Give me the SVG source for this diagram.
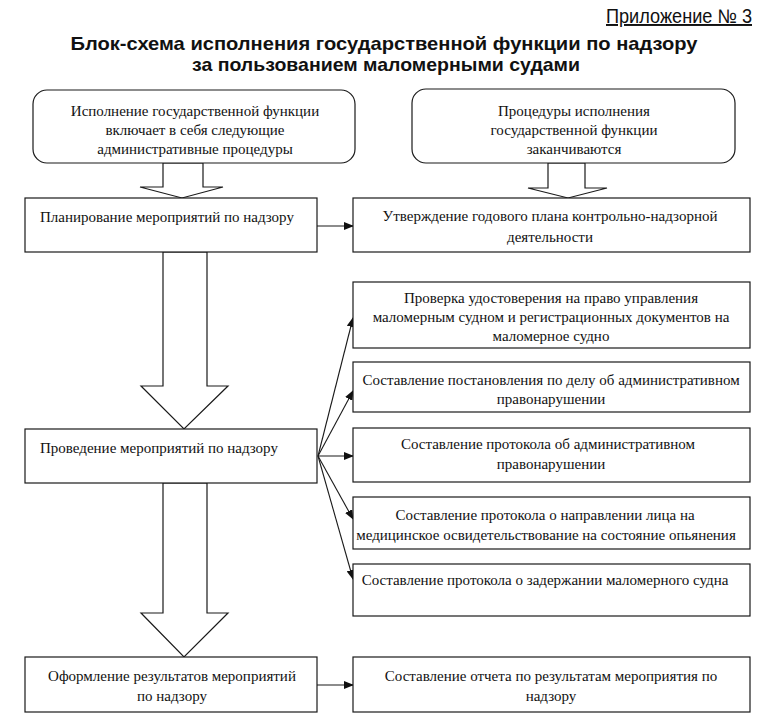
<svg xmlns="http://www.w3.org/2000/svg" width="765" height="725" viewBox="0 0 765 725">
<style>
.box{fill:#fff;stroke:#1a1a1a;stroke-width:1.2}
.t{font-family:"Liberation Serif","Times New Roman",serif;font-size:15px;fill:#111}
.c{text-anchor:middle}
.hd{font-family:"Liberation Sans",Arial,sans-serif;font-weight:bold;font-size:18.5px;fill:#111;text-anchor:middle}
.ap{font-family:"Liberation Sans",Arial,sans-serif;font-size:19.5px;fill:#111;text-decoration:underline}
.big{fill:#fff;stroke:#1a1a1a;stroke-width:1.2;stroke-linejoin:miter}
.ln{stroke:#1a1a1a;stroke-width:1.1;fill:none;marker-end:url(#ah)}
</style>
<defs>
<marker id="ah" markerWidth="10" markerHeight="8" refX="9" refY="4" orient="auto" markerUnits="userSpaceOnUse">
<path d="M0,0 L10,4 L0,8 Z" fill="#111"/>
</marker>
</defs>
<rect width="765" height="725" fill="#fff"/>

<g id="header">
<text class="ap" x="606" y="23" textLength="146" lengthAdjust="spacingAndGlyphs">Приложение № 3</text>
<text class="hd" x="384" y="50" textLength="627" lengthAdjust="spacingAndGlyphs">Блок-схема исполнения государственной функции по надзору</text>
<text class="hd" x="386" y="71" textLength="388" lengthAdjust="spacingAndGlyphs">за пользованием маломерными судами</text>
</g>

<g id="connectors">
<polygon class="big" points="163,163 163,187 140,187 182,198 223,187 203,187 203,163"/>
<polygon class="big" points="548,163 548,188 528,188 568,198 607,188 585,188 585,163"/>
<polygon class="big" points="163,252 163,386 141,386 184,429 228,386 207,386 207,252"/>
<polygon class="big" points="163,483 163,613 141,613 184,657 228,613 207,613 207,483"/>
<line class="ln" x1="317" y1="226" x2="353" y2="226"/>
<line class="ln" x1="317" y1="685" x2="353" y2="685"/>
<line class="ln" x1="318" y1="456" x2="353" y2="318"/>
<line class="ln" x1="318" y1="456" x2="353" y2="391"/>
<line class="ln" x1="318" y1="456" x2="353" y2="456"/>
<line class="ln" x1="318" y1="456" x2="353" y2="519"/>
<line class="ln" x1="318" y1="456" x2="353" y2="579"/>
</g>

<g id="start">
<rect class="box" x="33" y="90" width="322" height="73" rx="14"/>
<text class="t c" x="195" y="116">Исполнение государственной функции</text>
<text class="t c" x="195" y="135">включает в себя следующие</text>
<text class="t c" x="195" y="154">административные процедуры</text>
</g>

<g id="end">
<rect class="box" x="412" y="89" width="323" height="74" rx="14"/>
<text class="t c" x="574" y="116">Процедуры исполнения</text>
<text class="t c" x="574" y="135">государственной функции</text>
<text class="t c" x="574" y="154">заканчиваются</text>
</g>

<g id="planning">
<rect class="box" x="25" y="198" width="292" height="54"/>
<text class="t" x="40" y="222">Планирование мероприятий по надзору</text>
</g>

<g id="approval">
<rect class="box" x="353" y="198" width="397" height="54"/>
<text class="t c" x="550" y="221">Утверждение годового плана контрольно-надзорной</text>
<text class="t c" x="550" y="242">деятельности</text>
</g>

<g id="conduct">
<rect class="box" x="25" y="429" width="292" height="54"/>
<text class="t" x="40" y="453">Проведение мероприятий по надзору</text>
</g>

<g id="check">
<rect class="box" x="353" y="282" width="397" height="66"/>
<text class="t c" x="551" y="303">Проверка удостоверения на право управления</text>
<text class="t c" x="551" y="322">маломерным судном и регистрационных документов на</text>
<text class="t c" x="551" y="341">маломерное судно</text>
</g>

<g id="resolution">
<rect class="box" x="353" y="362" width="397" height="50"/>
<text class="t c" x="551" y="385">Составление постановления по делу об административном</text>
<text class="t c" x="551" y="404">правонарушении</text>
</g>

<g id="protocol">
<rect class="box" x="353" y="428" width="397" height="54"/>
<text class="t c" x="548" y="449">Составление протокола об административном</text>
<text class="t c" x="551" y="469">правонарушении</text>
</g>

<g id="medical">
<rect class="box" x="353" y="497" width="397" height="52"/>
<text class="t c" x="545" y="520">Составление протокола о направлении лица на</text>
<text class="t c" x="546" y="540">медицинское освидетельствование на состояние опьянения</text>
</g>

<g id="detention">
<rect class="box" x="353" y="564" width="397" height="52"/>
<text class="t c" x="545" y="585">Составление протокола о задержании маломерного судна</text>
</g>

<g id="results">
<rect class="box" x="25" y="657" width="292" height="55"/>
<text class="t c" x="172" y="681">Оформление результатов мероприятий</text>
<text class="t c" x="172" y="701">по надзору</text>
</g>

<g id="report">
<rect class="box" x="353" y="657" width="397" height="55"/>
<text class="t c" x="551" y="681">Составление отчета по результатам мероприятия по</text>
<text class="t c" x="551" y="701">надзору</text>
</g>
</svg>
